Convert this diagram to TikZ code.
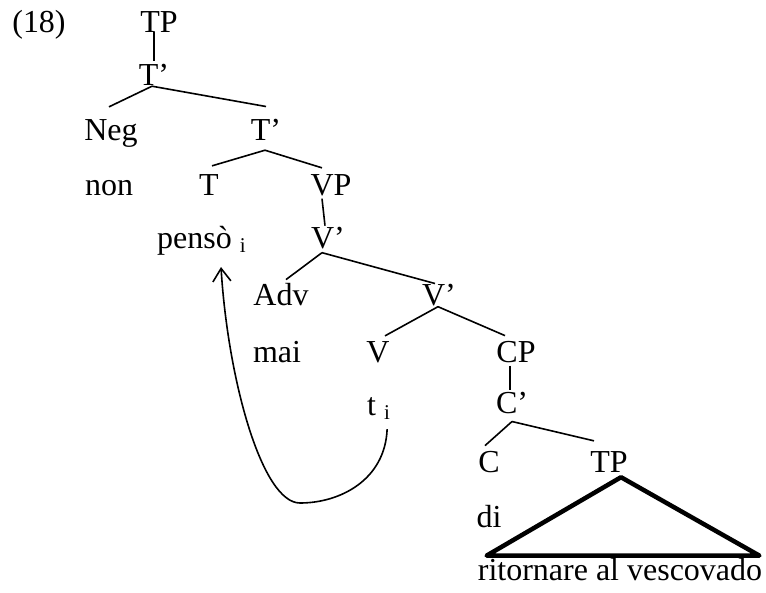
\documentclass[tikz,border=0pt]{standalone}
\usepackage{fontspec}
\setmainfont{Liberation Serif}
\usetikzlibrary{arrows.meta}
\newcommand{\idx}{\ {\fontsize{21}{23}\selectfont\raisebox{-4pt}{i}}}

\begin{document}
\begin{tikzpicture}[x=1pt,y=1pt,>={Straight Barb[length=13pt,width=18pt]},
  lbl/.style={anchor=base,inner sep=0pt,font=\fontsize{32}{38}\selectfont},
  br/.style={line width=1.6pt},
  roof/.style={line width=4.5pt,line join=round}]
  \useasboundingbox (0,0) rectangle (766,-592);
  \node[lbl] (ex) at (39,-32) {(18)};
  \node[lbl] (tp1) at (159,-32) {TP};
  \node[lbl] (tb1) at (154,-85) {T’};
  \node[lbl] (neg) at (111,-140) {Neg};
  \node[lbl] (tb2) at (266,-140) {T’};
  \node[lbl] (non) at (109,-195) {non};
  \node[lbl] (t) at (209,-195) {T};
  \node[lbl] (vp) at (331,-195) {VP};
  \node[lbl,anchor=base west] (pen) at (157,-248) {pensò\idx};
  \node[lbl] (vb1) at (328,-248) {V’};
  \node[lbl] (adv) at (281,-305) {Adv};
  \node[lbl] (vb2) at (439,-305) {V’};
  \node[lbl] (mai) at (277,-362) {mai};
  \node[lbl] (v) at (378,-362) {V};
  \node[lbl] (cp) at (516,-362) {CP};
  \node[lbl,anchor=base west] (ti) at (367,-415) {t\idx};
  \node[lbl] (cb) at (512,-413) {C’};
  \node[lbl] (c) at (489,-472) {C};
  \node[lbl] (tp2) at (609,-472) {TP};
  \node[lbl] (di) at (489,-527) {di};
  \node[lbl] (rit) at (620,-580) {ritornare al vescovado};
  % branches
  \draw[br] (tb1.north) ++(0,3) -- (tb1.north |- tp1.south);
  \draw[br] ([xshift=-2pt,yshift=-1pt]tb1.south) -- ([xshift=-2pt,yshift=12pt]neg.north);
  \draw[br] ([xshift=-2pt,yshift=-1pt]tb1.south) -- ([yshift=12pt]tb2.north);
  \draw[br] ([xshift=-1pt,yshift=-10pt]tb2.south) -- ([xshift=3pt,yshift=8pt]t.north);
  \draw[br] ([xshift=-1pt,yshift=-10pt]tb2.south) -- ([xshift=-9pt,yshift=6pt]vp.north);
  \draw[br] ([xshift=-9pt,yshift=-3pt]vp.south) -- ([xshift=-6pt,yshift=-30pt]vp.south);
  \draw[br] ([xshift=-6pt,yshift=-4pt]vb1.south) -- ([xshift=5pt,yshift=3pt]adv.north);
  \draw[br] ([xshift=-6pt,yshift=-4pt]vb1.south) -- ([xshift=-4pt]vb2.north);
  \draw[br] ([xshift=-1pt,yshift=-1pt]vb2.south) -- ([xshift=7pt,yshift=5pt]v.north);
  \draw[br] ([xshift=-1pt,yshift=-1pt]vb2.south) -- ([xshift=-11pt,yshift=5pt]cp.north);
  \draw[br] ([xshift=-6pt,yshift=-3pt]cp.south) -- ([xshift=-2pt,yshift=2pt]cb.north);
  \draw[br] ([yshift=-8pt]cb.south) -- ([xshift=-4pt,yshift=5pt]c.north);
  \draw[br] ([yshift=-8pt]cb.south) -- ([xshift=-15pt,yshift=10pt]tp2.north);
  \draw[roof] ([xshift=12pt,yshift=-5pt]tp2.south) -- ([xshift=9pt,yshift=2pt]rit.north west)
    -- ([xshift=-3pt,yshift=2pt]rit.north east) -- cycle;
  % movement
  \draw[br,->] ([xshift=-3pt,yshift=-10pt]ti.south east) .. controls (385,-480) and (340,-503) .. (300,-503)
    .. controls (262,-503) and (228,-380) .. ([xshift=64pt,yshift=-12pt]pen.south west);
\end{tikzpicture}
\end{document}
